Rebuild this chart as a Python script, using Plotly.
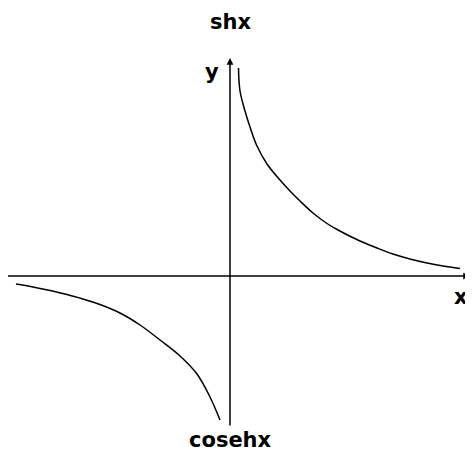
import plotly.graph_objects as go

# Right branch (x > 0) points
right_x = [0.17, 0.20, 0.30, 0.40, 0.54, 0.74, 1.00, 1.20, 1.40, 1.66, 1.94, 2.16, 2.60, 2.94, 3.26, 3.60, 3.94, 4.26, 4.60]
right_y = [4.16, 3.70, 3.30, 2.98, 2.60, 2.24, 1.92, 1.70, 1.50, 1.26, 1.05, 0.92, 0.70, 0.56, 0.44, 0.34, 0.26, 0.20, 0.15]

# Left branch (x < 0)
left_x = [-4.28, -3.94, -3.26, -2.94, -2.60, -2.20, -1.80, -1.40, -1.00, -0.66, -0.40, -0.20]
left_y = [-0.16, -0.22, -0.37, -0.46, -0.57, -0.74, -0.98, -1.28, -1.60, -1.96, -2.42, -2.88]

labels = {"top": "shx", "bottom": "cosehx", "xlab": "x", "ylab": "y"}

fig = go.Figure()
for xs, ys in ((right_x, right_y), (left_x, left_y)):
    fig.add_trace(go.Scatter(x=xs, y=ys, mode="lines",
                             line=dict(color="black", width=1.5, shape="spline", smoothing=1.0),
                             hoverinfo="skip"))

font = dict(family="DejaVu Sans", size=21, color="black")
ann = [
    dict(x=4.80, y=0, ax=-4.48, ay=0, xref="x", yref="y", axref="x", ayref="y",
         showarrow=True, arrowhead=2, arrowsize=0.9, arrowwidth=1.5, arrowcolor="black", text=""),
    dict(x=0, y=4.36, ax=0, ay=-3.02, xref="x", yref="y", axref="x", ayref="y",
         showarrow=True, arrowhead=2, arrowsize=0.9, arrowwidth=1.5, arrowcolor="black", text=""),
    dict(x=0, y=5.08, xref="x", yref="y", text="<b>%s</b>" % labels["top"], showarrow=False, font=font),
    dict(x=0, y=-3.28, xref="x", yref="y", text="<b>%s</b>" % labels["bottom"], showarrow=False, font=font),
    dict(x=4.62, y=-0.42, xref="x", yref="y", text="<b>%s</b>" % labels["xlab"], showarrow=False, font=font),
    dict(x=-0.36, y=4.08, xref="x", yref="y", text="<b>%s</b>" % labels["ylab"], showarrow=False, font=font),
]

# page has an 8px body margin; figure is sized/ranged so data maps onto the reference pixels
fig.update_layout(
    width=465, height=448,
    margin=dict(l=0, r=0, t=0, b=0),
    paper_bgcolor="white", plot_bgcolor="white",
    showlegend=False,
    xaxis=dict(range=[-4.44, 4.86], visible=False, fixedrange=True),
    yaxis=dict(range=[-3.6, 5.36], visible=False, fixedrange=True),
    annotations=ann,
)
fig.write_html("out.html")
